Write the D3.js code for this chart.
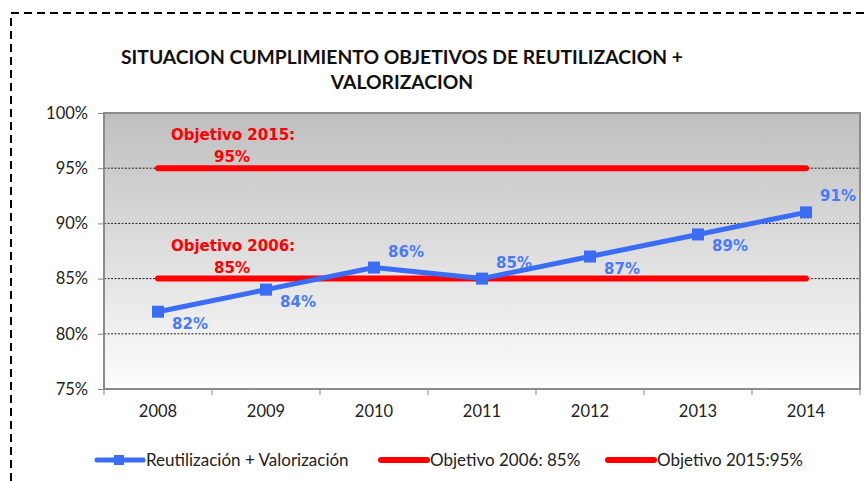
<!DOCTYPE html>
<html>
<head>
<meta charset="utf-8">
<script src="https://cdn.jsdelivr.net/npm/d3@7"></script>
<style>
	body { margin: 0; background: #fff; }
</style>
</head>
<body>
<script>
const years = ["2008", "2009", "2010", "2011", "2012", "2013", "2014"];
const reutilizacion = [0.82, 0.84, 0.86, 0.85, 0.87, 0.89, 0.91];
const objetivo2006 = [0.85, 0.85, 0.85, 0.85, 0.85, 0.85, 0.85];
const objetivo2015 = [0.95, 0.95, 0.95, 0.95, 0.95, 0.95, 0.95];
const yTicks = [0.75, 0.8, 0.85, 0.9, 0.95, 1.0];
const gridTicks = [0.8, 0.85, 0.9, 0.95];
// where each blue label sits relative to its point
const labelPos = ["below", "below", "above", "above", "below", "below", "above"];
const legendItems = ["Reutilización + Valorización", "Objetivo 2006: 85%", "Objetivo 2015:95%"];

const width = 867;
const height = 481;
const blue = "#3a6cf4";
const red = "#ff0000";
const sans = "Lato, 'Liberation Sans', sans-serif";

const svg = d3.select("body").append("svg")
	.attr("width", width)
	.attr("height", height);

// dashed outer frame (top and left edges visible)
svg.append("path")
	.attr("d", `M11,${height} L11,13 L${width},13`)
	.attr("fill", "none")
	.attr("stroke", "#000")
	.attr("stroke-width", 2)
	.attr("stroke-dasharray", "8,5");

// title
const title = svg.append("text")
	.attr("text-anchor", "middle")
	.style("font-family", sans)
	.style("font-weight", "bold")
	.style("font-size", "19.3px")
	.attr("fill", "#111");
title.append("tspan").attr("x", 402).attr("y", 64).text("SITUACION CUMPLIMIENTO OBJETIVOS DE REUTILIZACION +");
title.append("tspan").attr("x", 402).attr("y", 89).text("VALORIZACION");

const x = d3.scaleBand().domain(years).range([104, 860]);
const y = d3.scaleLinear().domain([0.75, 1.0]).range([389, 113]);
const cx = (d) => x(d) + x.bandwidth() / 2;

// plot background gradient
const defs = svg.append("defs");
const grad = defs.append("linearGradient")
	.attr("id", "bg").attr("x1", 0).attr("y1", 0).attr("x2", 0).attr("y2", 1);
grad.append("stop").attr("offset", "0%").attr("stop-color", "#bfbfbf");
grad.append("stop").attr("offset", "100%").attr("stop-color", "#fdfdfd");

svg.append("rect")
	.attr("x", 104).attr("y", y(1.0))
	.attr("width", 756).attr("height", y(0.75) - y(1.0))
	.attr("fill", "url(#bg)");

// gridlines
svg.append("g")
	.selectAll("line")
	.data(gridTicks)
	.join("line")
	.attr("x1", 104).attr("x2", 860)
	.attr("y1", (d) => y(d)).attr("y2", (d) => y(d))
	.attr("stroke", "#222")
	.attr("stroke-width", 1)
	.attr("stroke-dasharray", "2,1.5");

// plot border
svg.append("rect")
	.attr("x", 104).attr("y", y(1.0))
	.attr("width", 756).attr("height", y(0.75) - y(1.0))
	.attr("fill", "none")
	.attr("stroke", "#8c8c8c")
	.attr("stroke-width", 2);

// y axis
const yAxis = svg.append("g")
	.attr("transform", "translate(104,0)")
	.call(d3.axisLeft(y).tickValues(yTicks).tickSize(6).tickPadding(10).tickFormat(d3.format(".0%")));
yAxis.select(".domain").remove();
yAxis.selectAll("line").attr("stroke", "#888");
yAxis.selectAll("text")
	.style("font-family", sans)
	.style("font-size", "16.5px")
	.attr("fill", "#222");

// x axis
const xAxis = svg.append("g")
	.attr("transform", `translate(0,${y(0.75)})`)
	.call(d3.axisBottom(x).tickSize(0).tickPadding(16));
xAxis.select(".domain").remove();
xAxis.selectAll("text")
	.style("font-family", sans)
	.style("font-size", "16.5px")
	.attr("fill", "#222");
svg.append("g")
	.selectAll("line")
	.data(d3.range(years.length + 1))
	.join("line")
	.attr("x1", (i) => 104 + i * x.bandwidth())
	.attr("x2", (i) => 104 + i * x.bandwidth())
	.attr("y1", y(0.75)).attr("y2", y(0.75) + 6)
	.attr("stroke", "#888");

// target lines
const line = d3.line().x((d, i) => cx(years[i])).y((d) => y(d));
[objetivo2006, objetivo2015].forEach((s) => {
	svg.append("path")
		.attr("d", line(s))
		.attr("fill", "none")
		.attr("stroke", red)
		.attr("stroke-width", 6)
		.attr("stroke-linecap", "round");
});

// target annotations
const annot = svg.append("g")
	.attr("text-anchor", "middle")
	.style("font-family", "'DejaVu Sans', sans-serif")
	.style("font-weight", "bold")
	.style("font-size", "15px")
	.attr("fill", red);
[[objetivo2015[0], "Objetivo 2015:"], [objetivo2006[0], "Objetivo 2006:"]].forEach(([v, t]) => {
	annot.append("text").attr("x", 233).attr("y", y(v) - 28).text(t);
	annot.append("text").attr("x", 232).attr("y", y(v) - 6).text(d3.format(".0%")(v));
});

// main series
svg.append("path")
	.attr("d", line(reutilizacion))
	.attr("fill", "none")
	.attr("stroke", blue)
	.attr("stroke-width", 5)
	.attr("stroke-linejoin", "round");
svg.append("g")
	.selectAll("rect")
	.data(reutilizacion)
	.join("rect")
	.attr("x", (d, i) => cx(years[i]) - 6)
	.attr("y", (d) => y(d) - 6)
	.attr("width", 12).attr("height", 12)
	.attr("fill", blue);
svg.append("g")
	.selectAll("text")
	.data(reutilizacion)
	.join("text")
	.attr("x", (d, i) => cx(years[i]) + 32)
	.attr("y", (d, i) => labelPos[i] === "above" ? y(d) - 11 : y(d) + 17)
	.attr("text-anchor", "middle")
	.style("font-family", "'DejaVu Sans', sans-serif")
	.style("font-weight", "bold")
	.style("font-size", "15px")
	.attr("fill", "#4a7af5")
	.text((d) => d3.format(".0%")(d));

// legend
const legendX = [97, 381, 608];
const legendColors = [blue, red, red];
const legend = svg.append("g").attr("transform", "translate(0,460)");
legendItems.forEach((t, i) => {
	legend.append("line")
		.attr("x1", legendX[i]).attr("x2", legendX[i] + 46)
		.attr("stroke", legendColors[i])
		.attr("stroke-width", i === 0 ? 5 : 6)
		.attr("stroke-linecap", "round");
	if (i === 0) {
		legend.append("rect")
			.attr("x", legendX[i] + 17).attr("y", -5)
			.attr("width", 10).attr("height", 10)
			.attr("fill", blue);
	}
	legend.append("text")
		.attr("x", legendX[i] + 49).attr("y", 5.5)
		.style("font-family", sans)
		.style("font-size", "17px")
		.attr("fill", "#222")
		.text(t);
});
</script>
</body>
</html>
